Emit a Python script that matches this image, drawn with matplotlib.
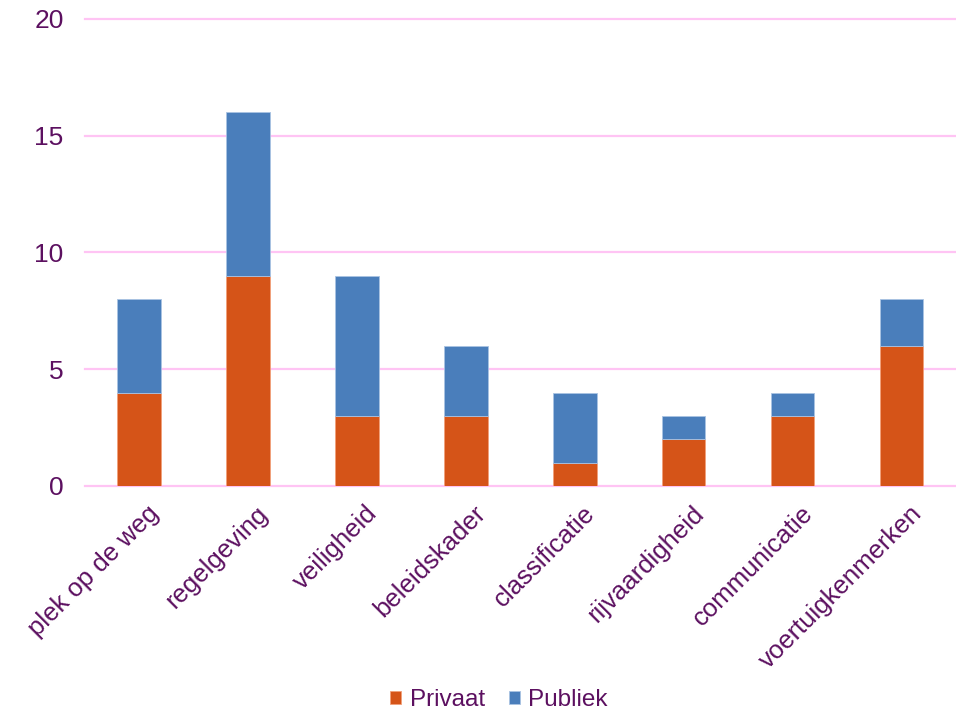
import matplotlib
matplotlib.use("Agg")
import matplotlib.pyplot as plt
import matplotlib.transforms as mtrans
import numpy as np

categories = ["plek op de weg", "regelgeving", "veiligheid", "beleidskader",
              "classificatie", "rijvaardigheid", "communicatie", "voertuigkenmerken"]
privaat = [4, 9, 3, 3, 1, 2, 3, 6]
publiek = [4, 7, 6, 3, 3, 1, 1, 2]
yticks = [0, 5, 10, 15, 20]

ORANGE, BLUE, GRID, TXT = "#D55418", "#4A7EBB", "#FFC4F4", "#5C1060"
plt.rcParams.update({"font.family": ["Liberation Sans", "DejaVu Sans"], "font.size": 18})

fig = plt.figure(figsize=(9.56, 7.13), dpi=100)
ax = fig.add_axes([0.0884, 0.3184, 0.9116, 0.655])

x = np.arange(len(categories))
ax.bar(x, privaat, width=0.4, color=ORANGE, edgecolor="#F2A07A", linewidth=0.6,
       label="Privaat", zorder=3)
ax.bar(x, publiek, width=0.4, bottom=privaat, color=BLUE, edgecolor="#A9C3E3",
       linewidth=0.6, label="Publiek", zorder=3)

ax.set_xlim(-0.5, len(categories) - 0.5)
ax.set_ylim(0, 20)
ax.set_yticks(yticks)
ax.set_yticklabels([str(t) for t in yticks], color=TXT, fontsize=19)
ax.set_xticks(x)
ax.set_xticklabels(categories, rotation=45, ha="right", va="top",
                   rotation_mode="anchor", color=TXT, fontsize=18.5)
ax.tick_params(axis="both", length=0)
ax.tick_params(axis="y", pad=15)
ax.tick_params(axis="x", pad=6)
shift = mtrans.ScaledTranslation(0.08, -0.07, fig.dpi_scale_trans)
for lab in ax.get_xticklabels():
    lab.set_transform(lab.get_transform() + shift)
for s in ax.spines.values():
    s.set_visible(False)
for t in yticks:
    ax.axhline(t, color=GRID, lw=1.6, zorder=1, clip_on=False)

leg = fig.legend(loc="center", bbox_to_anchor=(0.522, 0.018),
                 ncol=2, frameon=False, handlelength=0.45, handleheight=0.45,
                 handletextpad=0.35, columnspacing=1.0, fontsize=17.5)
for t in leg.get_texts():
    t.set_color(TXT)

fig.savefig("out.png", dpi=100)
